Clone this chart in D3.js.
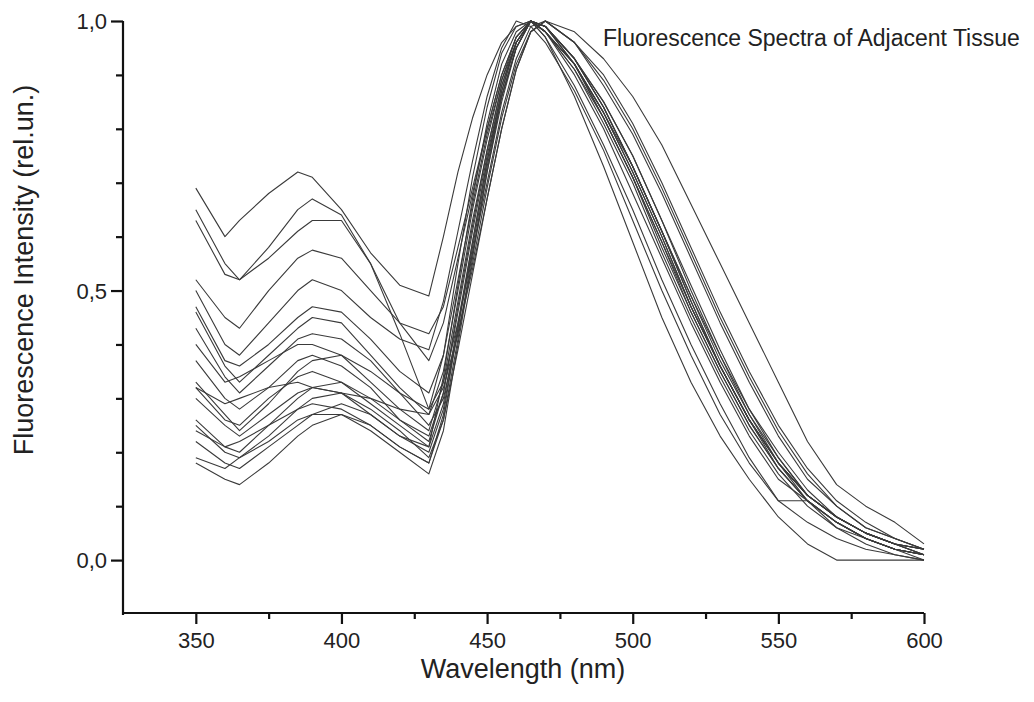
<!DOCTYPE html>
<html>
<head>
<meta charset="utf-8">
<script src="https://cdn.jsdelivr.net/npm/d3@7"></script>
<style>
  body { margin: 0; background: #fff; }
  svg { display: block; font-family: "Liberation Sans", Arial, sans-serif; }
</style>
</head>
<body>
<svg width="1034" height="702"></svg>
<script>
// wavelength grid (nm) shared by every spectrum
var wavelengths = [350,360,365,375,385,390,400,410,420,430,435,440,445,450,455,460,465,470,480,490,500,510,520,530,540,550,560,570,580,590,600];

// normalised fluorescence intensity, one array per spectrum
var spec01 = [0.69,0.60,0.63,0.68,0.72,0.71,0.65,0.57,0.51,0.49,0.60,0.72,0.82,0.90,0.96,0.99,1.00,0.98,0.92,0.83,0.73,0.61,0.49,0.38,0.28,0.20,0.13,0.08,0.05,0.03,0.02];
var spec02 = [0.65,0.55,0.52,0.58,0.65,0.67,0.64,0.55,0.44,0.37,0.44,0.56,0.68,0.80,0.90,0.97,1.00,0.99,0.93,0.85,0.75,0.63,0.50,0.38,0.27,0.18,0.12,0.08,0.05,0.03,0.01];
var spec03 = [0.63,0.53,0.52,0.56,0.61,0.63,0.63,0.55,0.42,0.28,0.33,0.44,0.57,0.70,0.83,0.93,0.99,1.00,0.96,0.90,0.81,0.70,0.58,0.46,0.35,0.25,0.17,0.11,0.07,0.04,0.02];
var spec04 = [0.52,0.45,0.43,0.50,0.56,0.575,0.56,0.50,0.44,0.42,0.47,0.58,0.69,0.80,0.90,0.97,1.00,0.99,0.92,0.82,0.71,0.58,0.46,0.35,0.25,0.17,0.11,0.07,0.04,0.02,0.01];
var spec05 = [0.50,0.40,0.38,0.44,0.50,0.52,0.50,0.45,0.41,0.39,0.48,0.61,0.74,0.86,0.95,1.00,0.99,0.96,0.87,0.76,0.63,0.50,0.38,0.27,0.18,0.11,0.07,0.04,0.02,0.01,0.00];
var spec06 = [0.47,0.37,0.36,0.40,0.45,0.47,0.46,0.41,0.35,0.31,0.38,0.52,0.66,0.79,0.89,0.96,1.00,0.98,0.91,0.82,0.71,0.59,0.47,0.36,0.26,0.18,0.12,0.08,0.05,0.03,0.02];
var spec07 = [0.46,0.36,0.33,0.38,0.43,0.45,0.44,0.38,0.32,0.27,0.35,0.50,0.65,0.78,0.89,0.97,1.00,0.99,0.93,0.84,0.73,0.61,0.48,0.36,0.26,0.17,0.11,0.07,0.04,0.02,0.01];
var spec08 = [0.43,0.34,0.31,0.36,0.41,0.42,0.41,0.37,0.31,0.25,0.30,0.42,0.55,0.69,0.82,0.92,0.98,1.00,0.96,0.88,0.79,0.68,0.56,0.44,0.33,0.23,0.15,0.10,0.06,0.04,0.02];
var spec09 = [0.40,0.33,0.34,0.37,0.40,0.40,0.38,0.33,0.28,0.24,0.33,0.48,0.63,0.76,0.88,0.96,1.00,0.99,0.92,0.83,0.72,0.60,0.47,0.36,0.26,0.18,0.12,0.08,0.05,0.03,0.01];
var spec10 = [0.37,0.30,0.28,0.32,0.37,0.38,0.36,0.32,0.26,0.22,0.31,0.47,0.62,0.76,0.88,0.96,1.00,0.98,0.91,0.81,0.70,0.57,0.45,0.34,0.24,0.16,0.10,0.06,0.04,0.02,0.01];
var spec11 = [0.33,0.27,0.24,0.29,0.35,0.37,0.38,0.35,0.31,0.28,0.38,0.55,0.71,0.84,0.94,0.99,1.00,0.97,0.86,0.73,0.59,0.45,0.33,0.23,0.15,0.08,0.03,0.00,0.00,0.00,0.00];
var spec12 = [0.32,0.26,0.25,0.30,0.34,0.35,0.33,0.29,0.25,0.21,0.29,0.44,0.59,0.74,0.86,0.95,1.00,0.99,0.93,0.84,0.73,0.61,0.48,0.36,0.26,0.18,0.12,0.08,0.05,0.03,0.02];
var spec13 = [0.32,0.29,0.30,0.32,0.33,0.32,0.31,0.30,0.28,0.27,0.32,0.42,0.54,0.67,0.80,0.91,0.98,1.00,0.98,0.93,0.86,0.77,0.66,0.55,0.44,0.33,0.22,0.14,0.10,0.07,0.03];
var spec14 = [0.30,0.25,0.23,0.27,0.31,0.32,0.31,0.27,0.23,0.20,0.28,0.43,0.58,0.73,0.86,0.95,1.00,0.99,0.93,0.85,0.75,0.63,0.51,0.39,0.28,0.19,0.12,0.08,0.05,0.03,0.02];
var spec15 = [0.26,0.21,0.20,0.25,0.30,0.32,0.33,0.30,0.26,0.23,0.31,0.46,0.61,0.75,0.87,0.96,1.00,0.98,0.90,0.80,0.68,0.56,0.44,0.33,0.23,0.15,0.11,0.07,0.04,0.02,0.01];
var spec16 = [0.25,0.20,0.19,0.23,0.28,0.30,0.31,0.28,0.24,0.19,0.26,0.39,0.53,0.67,0.80,0.91,0.98,1.00,0.96,0.89,0.80,0.69,0.57,0.45,0.34,0.24,0.16,0.10,0.06,0.04,0.02];
var spec17 = [0.24,0.21,0.22,0.25,0.28,0.29,0.28,0.25,0.21,0.18,0.27,0.43,0.59,0.74,0.87,0.96,1.00,0.98,0.92,0.83,0.72,0.60,0.47,0.36,0.26,0.18,0.11,0.07,0.04,0.02,0.00];
var spec18 = [0.22,0.18,0.17,0.21,0.25,0.27,0.29,0.27,0.23,0.21,0.34,0.51,0.67,0.81,0.92,0.98,1.00,0.97,0.88,0.77,0.65,0.52,0.40,0.29,0.19,0.11,0.11,0.06,0.03,0.01,0.00];
var spec19 = [0.19,0.17,0.19,0.22,0.26,0.27,0.27,0.24,0.20,0.16,0.24,0.40,0.56,0.72,0.85,0.95,1.00,0.99,0.93,0.84,0.73,0.61,0.49,0.37,0.27,0.19,0.12,0.08,0.05,0.03,0.01];
var spec20 = [0.18,0.15,0.14,0.18,0.23,0.25,0.27,0.25,0.21,0.18,0.26,0.41,0.57,0.72,0.86,0.95,1.00,0.98,0.92,0.82,0.71,0.59,0.46,0.35,0.25,0.17,0.11,0.07,0.04,0.02,0.01];

var spectra = [spec01,spec02,spec03,spec04,spec05,spec06,spec07,spec08,spec09,spec10,
               spec11,spec12,spec13,spec14,spec15,spec16,spec17,spec18,spec19,spec20];

var xMajor = [350,400,450,500,550,600];
var xMinor = [375,425,475,525,575];
var yMajor = [0,0.5,1.0];
var yMinor = [0.1,0.2,0.3,0.4,0.6,0.7,0.8,0.9];

var svg = d3.select("svg");

var x = d3.scaleLinear().domain([325,600]).range([123,924]);
var y = d3.scaleLinear().domain([-0.1,1.0]).range([614,21]);

// comma as decimal separator, like the original
var fmt = d3.formatLocale({decimal: ",", thousands: ".", grouping: [3], currency: ["",""]}).format(".1f");

var line = d3.line()
  .x(function(d, i) { return x(wavelengths[i]); })
  .y(function(d) { return y(d); });

svg.append("g")
  .selectAll("path")
  .data(spectra)
  .enter().append("path")
  .attr("d", line)
  .attr("fill", "none")
  .attr("stroke", "#3a3a3a")
  .attr("stroke-width", 1.1)
  .attr("stroke-linejoin", "round");

// axes
var xAxis = svg.append("g")
  .attr("transform", "translate(0," + 613 + ")")
  .call(d3.axisBottom(x).tickValues(xMajor).tickFormat(d3.format("d")).tickSize(11).tickPadding(8));
var xMinorAxis = svg.append("g")
  .attr("transform", "translate(0," + 613 + ")")
  .call(d3.axisBottom(x).tickValues(xMinor).tickFormat("").tickSize(6));
xMinorAxis.select(".domain").remove();

var yAxis = svg.append("g")
  .attr("transform", "translate(" + 123 + ",0)")
  .call(d3.axisLeft(y).tickValues(yMajor).tickFormat(fmt).tickSize(12).tickPadding(4));
var yMinorAxis = svg.append("g")
  .attr("transform", "translate(" + 123 + ",0)")
  .call(d3.axisLeft(y).tickValues(yMinor).tickFormat("").tickSize(7));
yMinorAxis.select(".domain").remove();

// plain axis lines, no end caps
xAxis.select(".domain").attr("d", "M122,0H924");
yAxis.select(".domain").attr("d", "M0,21V615");

svg.selectAll(".domain, .tick line")
  .attr("stroke", "#111")
  .attr("stroke-width", 2.2);

svg.selectAll(".tick text")
  .attr("fill", "#222")
  .style("font-size", "22px")
  .style("font-family", "Liberation Sans, Arial, sans-serif");
yAxis.selectAll(".tick text").attr("dy", "0.35em");

svg.append("text")
  .attr("x", 523)
  .attr("y", 678)
  .attr("text-anchor", "middle")
  .style("font-size", "27px")
  .attr("fill", "#222")
  .text("Wavelength (nm)");

svg.append("text")
  .attr("transform", "translate(33,270) rotate(-90)")
  .attr("text-anchor", "middle")
  .style("font-size", "27px")
  .attr("fill", "#222")
  .text("Fluorescence Intensity (rel.un.)");

svg.append("text")
  .attr("x", 603)
  .attr("y", 46)
  .style("font-size", "23px")
  .attr("fill", "#222")
  .text("Fluorescence Spectra of Adjacent Tissue");
</script>
</body>
</html>
